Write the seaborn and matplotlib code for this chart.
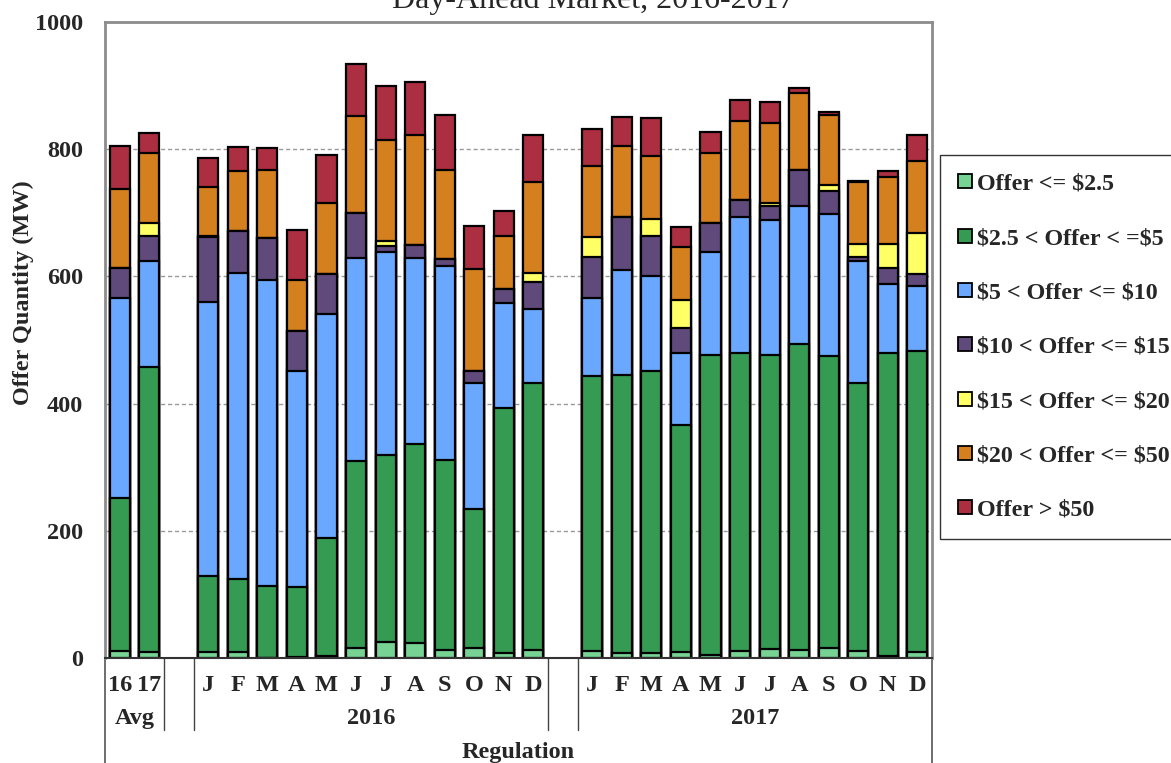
import numpy as np
import pandas as pd
import seaborn as sns
import matplotlib.pyplot as plt
from matplotlib.lines import Line2D

# category keys in plot order (blank slots separate the groups)
cats = ['Avg 16', 'Avg 17', 'gap1',
        '2016 J', '2016 F', '2016 M', '2016 A', '2016 My', '2016 Jn', '2016 Jl',
        '2016 Au', '2016 S', '2016 O', '2016 N', '2016 D', 'gap2',
        '2017 J', '2017 F', '2017 M', '2017 A', '2017 My', '2017 Jn', '2017 Jl',
        '2017 Au', '2017 S', '2017 O', '2017 N', '2017 D']
tick_labels = ['16', '17', '', 'J', 'F', 'M', 'A', 'M', 'J', 'J', 'A', 'S', 'O', 'N', 'D', '',
               'J', 'F', 'M', 'A', 'M', 'J', 'J', 'A', 'S', 'O', 'N', 'D']
bar_cats = [c for c in cats if not c.startswith('gap')]

# offer quantity (MW) by price band
light = [11, 9, 9, 9, 0, 1, 3, 15, 25, 23, 12, 15, 8, 12,
         11, 8, 8, 10, 4, 11, 14, 12, 15, 11, 3, 10]
green = [240, 449, 120, 115, 113, 110, 186, 295, 294, 313, 299, 219, 385, 421,
         432, 437, 443, 356, 472, 468, 462, 481, 460, 421, 476, 473]
blue = [315, 166, 431, 481, 482, 340, 352, 319, 319, 293, 306, 199, 165, 116,
        123, 165, 149, 114, 163, 215, 212, 217, 223, 193, 109, 102]
purple = [47, 40, 102, 66, 65, 63, 63, 70, 10, 20, 10, 18, 22, 42,
          64, 83, 63, 39, 45, 26, 23, 57, 37, 5, 25, 19]
yellow = [0, 20, 1, 0, 0, 0, 0, 0, 7, 0, 0, 0, 0, 14,
          32, 0, 28, 44, 0, 0, 5, 0, 8, 21, 38, 64]
orange = [125, 110, 78, 94, 107, 81, 112, 153, 159, 173, 141, 160, 84, 144,
          112, 112, 98, 84, 110, 125, 125, 121, 111, 98, 106, 113]
red = [67, 31, 45, 39, 35, 78, 75, 82, 85, 84, 85, 68, 39, 74,
       58, 46, 60, 31, 33, 33, 33, 8, 5, 1, 9, 42]

series = ['Offer <= $2.5', '$2.5 < Offer < =$5', '$5 < Offer <= $10',
          '$10 < Offer <= $15', '$15 < Offer <= $20', '$20 < Offer <= $50',
          'Offer > $50']
colors = ['#76D394', '#359A52', '#6AA8FF', '#604A7B', '#FFFF66', '#D4801F', '#AC2E41']

df = pd.DataFrame(dict(zip(series, [light, green, blue, purple, yellow, orange, red])),
                  index=bar_cats)
cum = df.cumsum(axis=1)

sns.set_style('white')
plt.rcParams['font.family'] = ['Liberation Serif', 'DejaVu Serif']
plt.rcParams['font.weight'] = 'bold'

fig = plt.figure(figsize=(11.71, 7.63), dpi=100)
ax = fig.add_axes([105 / 1171, 1 - 658 / 763, 827 / 1171, 636 / 763])

# stacked bars: draw cumulative totals from top band down
for name, col in reversed(list(zip(series, colors))):
    sns.barplot(x=cum.index, y=cum[name].values, order=cats, color=col,
                saturation=1, edgecolor='black', linewidth=1.6, width=0.68,
                errorbar=None, ax=ax)

ax.set_xlim(-0.5, len(cats) - 0.5)
ax.set_ylim(0, 1000)
ax.set_yticks(range(0, 1001, 200))
ax.set_yticklabels([str(v) for v in range(0, 1001, 200)], fontsize=17.5, fontweight='bold')
ax.set_xticks(range(len(cats)))
ax.set_xticklabels(tick_labels, fontsize=17.5, fontweight='bold')
ax.tick_params(axis='both', length=0)
ax.tick_params(axis='y', pad=16)
ax.tick_params(axis='x', pad=12)
ax.set_xlabel('')
ax.set_ylabel('Offer Quantity (MW)', fontsize=17.5, fontweight='bold')
ax.yaxis.set_label_coords(-0.086, 0.575)

ax.yaxis.grid(True, color='#9A9A9A', linestyle=(0, (3, 2)), linewidth=1)
ax.set_axisbelow(True)
for s in ['top', 'left', 'right']:
    ax.spines[s].set_color('#8C8C8C')
    ax.spines[s].set_linewidth(2)
ax.spines['bottom'].set_color('#333333')
ax.spines['bottom'].set_linewidth(1.5)

# group separators below the axis
tr = ax.get_xaxis_transform()
for xb in [1.5, 2.5, 14.5, 15.5]:
    ax.plot([xb, xb], [0, -0.113], transform=tr, color='#444444', lw=1, clip_on=False)
for xb in [-0.5, len(cats) - 0.5]:
    ax.plot([xb, xb], [0, -0.2], transform=tr, color='#555555', lw=1.2, clip_on=False)

ax.text(0.5, -0.095, 'Avg', transform=tr, ha='center', va='center', fontsize=17.5, fontweight='bold')
ax.text(8.5, -0.095, '2016', transform=tr, ha='center', va='center', fontsize=17.5, fontweight='bold')
ax.text(21.5, -0.095, '2017', transform=tr, ha='center', va='center', fontsize=17.5, fontweight='bold')
ax.text(13.5, -0.148, 'Regulation', transform=tr, ha='center', va='center', fontsize=17.5, fontweight='bold')

fig.text(593 / 1171, 1 - 8 / 763, 'Day-Ahead Market, 2016-2017', ha='center', va='baseline',
         fontsize=23, fontweight='normal')

handles = [Line2D([], [], marker='s', linestyle='none', markersize=9.5,
                  markerfacecolor=c, markeredgecolor='black', markeredgewidth=1.3)
           for c in colors]
leg_labels = [s.replace('$', r'\$') for s in series]
leg = fig.legend(handles, leg_labels, loc='upper left', bbox_to_anchor=(940 / 1171, 1 - 155 / 763),
                 prop={'family': 'Liberation Serif', 'weight': 'bold', 'size': 17.25},
                 frameon=True, fancybox=False, edgecolor='black', labelspacing=1.36,
                 handlelength=0.6, handletextpad=0.2, borderpad=0.75, borderaxespad=0)
leg.get_frame().set_linewidth(1)

fig.savefig('out.png', dpi=100)
